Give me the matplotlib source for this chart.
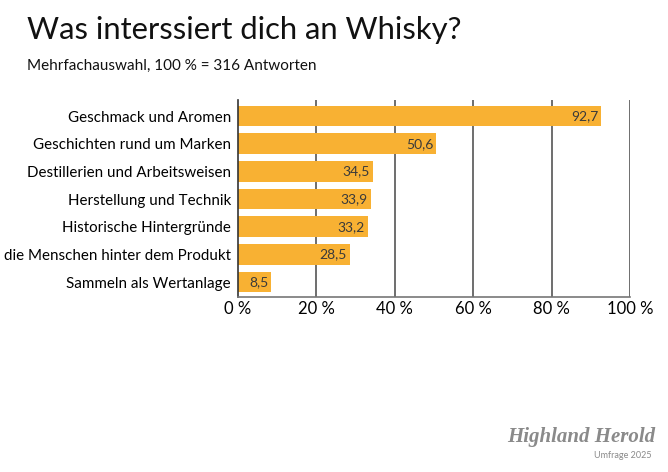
import matplotlib.pyplot as plt

plt.rcParams['font.family'] = ['Lato', 'DejaVu Sans']

categories = [
    "Geschmack und Aromen",
    "Geschichten rund um Marken",
    "Destillerien und Arbeitsweisen",
    "Herstellung und Technik",
    "Historische Hintergründe",
    "die Menschen hinter dem Produkt",
    "Sammeln als Wertanlage",
]
values = [92.7, 50.6, 34.5, 33.9, 33.2, 28.5, 8.5]
ticks = [0, 20, 40, 60, 80, 100]
tick_labels = ["0 %", "20 %", "40 %", "60 %", "80 %", "100 %"]

bar_color = "#F8B133"

fig = plt.figure(figsize=(6.68, 4.72), dpi=100)
ax = fig.add_axes([238 / 668, 1 - 297 / 472, (630 - 238) / 668, (297 - 100) / 472])

y = list(range(len(categories)))[::-1]
ax.barh(y, values, height=0.74, color=bar_color, zorder=2)
for yi, v in zip(y, values):
    ax.text(v - 0.8, yi, f"{v:.1f}".replace(".", ","), ha="right", va="center",
            fontsize=10, color="#3a3a3a", zorder=3)

ax.set_xlim(0, 100)
ax.set_ylim(-0.54, len(categories) - 0.42)
ax.set_xticks(ticks)
ax.set_xticklabels(tick_labels, fontsize=12)
ax.set_yticks(y)
ax.set_yticklabels(categories, fontsize=10.9)
ax.tick_params(axis="both", length=0)
ax.tick_params(axis="x", pad=3)
ax.tick_params(axis="y", pad=5)

for t in ticks[1:]:
    ax.axvline(t, color="#555555", lw=1.2, zorder=1)
for s in ["top", "right"]:
    ax.spines[s].set_visible(False)
ax.spines["left"].set_color("#333333")
ax.spines["left"].set_linewidth(1.2)
ax.spines["bottom"].set_color("#777777")
ax.spines["bottom"].set_linewidth(1.2)

fig.text(27 / 668, 1 - 30 / 472, "Was interssiert dich an Whisky?", fontsize=22.3,
         va="center", ha="left", color="#111111")
fig.text(27 / 668, 1 - 66 / 472, "Mehrfachauswahl, 100 % = 316 Antworten", fontsize=11,
         va="center", ha="left", color="#111111")

fig.text(655 / 668, 1 - 437 / 472, "Highland Herold", fontsize=15, ha="right", va="center",
         color="#8a8a8a", family=["Liberation Serif"], style="italic", weight="bold")
fig.text(652 / 668, 1 - 455 / 472, "Umfrage 2025", fontsize=6.5, ha="right", va="center",
         color="#8a8a8a")

fig.savefig("out.png", dpi=100, facecolor="white")
